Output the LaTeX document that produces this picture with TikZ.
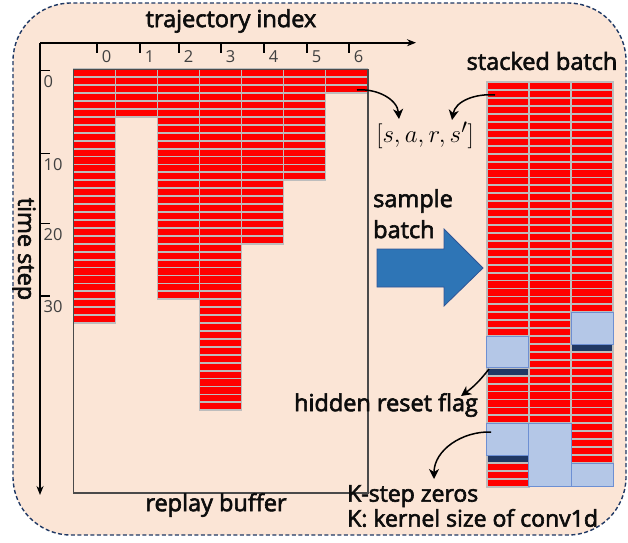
\documentclass[tikz,border=0pt]{standalone}
\usepackage{fontspec}
\setmainfont{Open Sans}
\newfontfamily\labelfont{Open Sans}[FakeBold=2.6]
\usetikzlibrary{arrows.meta}
\definecolor{bgpeach}{HTML}{FBE5D6}
\definecolor{navyline}{HTML}{1F3864}
\definecolor{cellred}{HTML}{FF0000}
\definecolor{cellgray}{HTML}{BDBDBD}
\definecolor{blockblue}{HTML}{B4C7E7}
\definecolor{blockedge}{HTML}{6D8FD3}
\definecolor{flagnavy}{HTML}{203864}
\definecolor{arrowblue}{HTML}{2E75B6}
\definecolor{arrowedge}{HTML}{2F5597}
\definecolor{ticktext}{HTML}{404040}
\definecolor{boxgray}{HTML}{4A4A4A}
\tikzset{
  redcell/.style={fill=cellred, draw=cellgray, line width=1.8pt},
  navycell/.style={fill=flagnavy, draw=cellgray, line width=1.8pt},
  blueblock/.style={fill=blockblue, draw=blockedge, line width=0.9pt},
  axisline/.style={line width=1.6pt, -{Stealth[length=9pt,width=7pt]}},
  tickline/.style={line width=1.1pt, draw=black},
  ticklabel/.style={text=ticktext, font=\fontsize{16.5}{16.5}\selectfont, inner sep=0pt},
  biglabel/.style={text=black!95, font=\labelfont\fontsize{23.5}{23.5}\selectfont, inner sep=0pt},
  curvearrow/.style={line width=1.5pt, -{Stealth[length=10pt,width=10pt,inset=3pt]}},
}
\begin{document}
\begin{tikzpicture}[x=1pt,y=-1pt]
\useasboundingbox (0,0) rectangle (628,542);
% background panel
\draw[fill=bgpeach, draw=navyline, dash pattern=on 4pt off 2.5pt, line width=1.4pt, rounded corners=58pt] (13,3) rectangle (626,535);

% replay buffer cells
\foreach \c/\n in {0/32,1/6,2/29,3/43,4/22,5/14,6/3} {
  \foreach \r in {1,...,\n} {
    \draw[redcell] ({73.5+42*\c},{69.3+7.93*(\r-1)}) rectangle ++(42,7.93);
  }
}
% replay buffer box
\draw[draw=boxgray, line width=1.5pt] (73.3,69.3) rectangle (368,493);
\node[biglabel] (rb) at (216,505) {replay buffer};

% axes
\coordinate (origin) at (40,42.7);
\coordinate (xend) at (416,42.7);
\coordinate (yend) at (40,495);
\draw[axisline] (origin) -- (xend);
\draw[axisline] (origin) -- (yend);
\node[biglabel] (ti) at (231,21) {trajectory index};
\node[biglabel, rotate=-90] (ts) at (24,249) {time step};

% horizontal ticks
\foreach \i/\x in {0/97,1/140,2/179,3/221,4/264,5/307,6/349} {
  \draw[tickline] (\x,42.7) -- (\x,53);
  \node[ticklabel] (tx\i) at (\x+9.5,57) {\i};
}
% vertical ticks
\foreach \v/\y in {0/70.7,10/153.3,20/223.3,30/296} {
  \draw[tickline] (40,\y) -- (50,\y);
  \node[ticklabel, anchor=west] (ty\v) at (43.5,\y+11) {\v};
}

% stacked batch
\foreach \c/\a/\b in {0/0/31, 0/37/42, 0/48/50, 1/0/42, 2/0/28, 2/34/47} {
  \foreach \r in {\a,...,\b} {
    \draw[redcell] ({486.7+42.2*\c},{82.3+7.93*\r}) rectangle ++(42.2,7.93);
  }
}
\foreach \c/\r in {0/36, 0/47, 2/33} {
  \draw[navycell] ({486.7+42.2*\c},{82.3+7.93*\r}) rectangle ++(42.2,7.93);
}
\foreach \c/\a/\b in {0/32/35, 0/43/46, 1/43/50, 2/29/32, 2/48/50} {
  \draw[blueblock] ({486.7+42.2*\c},{82.3+7.93*\a}) rectangle ({486.7+42.2*(\c+1)},{82.3+7.93*(\b+1)});
}
\node[biglabel] (sb) at (542,61) {stacked batch};

% big arrow
\draw[fill=arrowblue, draw=arrowedge, line width=0.8pt] (377,249) -- (444,249) -- (444,229) -- (483,268) -- (444,306) -- (444,287) -- (377,287) -- cycle;
\node[biglabel, anchor=north west, align=left, font=\labelfont\fontsize{23.5}{31}\selectfont] (samp) at (373,189) {sample\\batch};

% transition tuple
\node[inner sep=0pt] (tuple) at (425,135) {\fontsize{28}{28}\selectfont$[s,a,r,s']$};
\coordinate (src1) at (357,90);
\coordinate (dst1) at (399,119);
\coordinate (src2) at (495,95);
\coordinate (dst2) at (452,120);
\draw[curvearrow] (src1) to[out=5,in=95] (dst1);
\draw[curvearrow] (src2) to[out=175,in=80] (dst2);

% hidden reset flag
\node[biglabel] (hrf) at (386,405) {hidden reset flag};
\coordinate (src3) at (489,369);
\coordinate (dst3) at (461,396);
\draw[curvearrow] (src3) to[bend left=8] (dst3);

% K-step zeros
\node[biglabel, anchor=north west, align=left, font=\labelfont\fontsize{23}{25}\selectfont] (ksz) at (347,485) {K-step zeros\\K: kernel size of conv1d};
\coordinate (src4) at (491,432);
\coordinate (dst4) at (434,479);
\draw[curvearrow] (src4) to[out=178,in=90] (dst4);
\end{tikzpicture}
\end{document}
